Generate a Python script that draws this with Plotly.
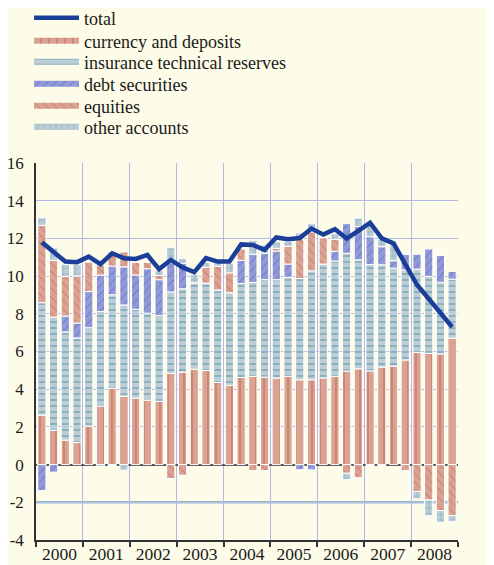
import plotly.graph_objects as go

years = ["2000", "2001", "2002", "2003", "2004", "2005", "2006", "2007", "2008"]
quarters = [
    "2000Q1", "2000Q2", "2000Q3", "2000Q4", "2001Q1", "2001Q2", "2001Q3", "2001Q4",
    "2002Q1", "2002Q2", "2002Q3", "2002Q4", "2003Q1", "2003Q2", "2003Q3", "2003Q4",
    "2004Q1", "2004Q2", "2004Q3", "2004Q4", "2005Q1", "2005Q2", "2005Q3", "2005Q4",
    "2006Q1", "2006Q2", "2006Q3", "2006Q4", "2007Q1", "2007Q2", "2007Q3", "2007Q4",
    "2008Q1", "2008Q2", "2008Q3", "2008Q4",
]
y_ticks = [-4, -2, 0, 2, 4, 6, 8, 10, 12, 14, 16]
y_tick_labels = ["-4", "-2", "0", "2", "4", "6", "8", "10", "12", "14", "16"]

currency = [2.62, 1.82, 1.30, 1.17, 2.04, 3.10, 4.05, 3.62, 3.52, 3.42, 3.35, 4.84,
            4.90, 5.06, 4.99, 4.36, 4.20, 4.62, 4.68, 4.64, 4.59, 4.68, 4.50, 4.50,
            4.60, 4.68, 4.96, 5.08, 4.97, 5.17, 5.22, 5.55, 5.95, 5.90, 5.87, 6.71]
insurance = [5.97, 6.01, 5.74, 5.55, 5.22, 5.02, 4.96, 4.85, 4.72, 4.61, 4.55, 4.32,
             4.43, 4.59, 4.64, 4.90, 4.92, 4.99, 4.98, 5.17, 5.22, 5.26, 5.37, 5.78,
             6.04, 6.12, 6.25, 5.78, 5.64, 5.43, 5.20, 4.78, 4.42, 4.08, 3.80, 3.13]
debt = [-1.38, -0.40, 0.84, 0.79, 1.92, 1.93, 1.52, 2.02, 1.82, 2.36, 1.91, 1.55,
        1.35, 0.00, 0.00, 0.00, 0.00, 1.23, 1.49, 1.40, 1.52, 0.70, -0.27, -0.28,
        0.00, 0.52, 1.57, 1.78, 1.48, 0.96, 0.40, 0.84, 0.79, 1.46, 1.42, 0.41]
equities = [4.10, 3.01, 2.10, 2.50, 1.58, 0.53, 0.76, 0.79, 0.67, 0.35, 0.23, -0.74,
            -0.56, 0.00, 0.84, 1.26, 1.05, 0.61, -0.32, -0.32, 0.14, 0.94, 2.11, 2.07,
            1.40, 0.63, -0.46, -0.69, -0.05, -0.05, 0.00, -0.32, -1.43, -1.88, -2.44, -2.71]
other = [0.40, 0.65, 0.65, 0.62, 0.00, -0.10, -0.05, -0.30, 0.00, 0.00, 0.26, 0.82,
         0.26, 0.45, 0.25, 0.23, 0.51, 0.00, 0.75, 0.44, 0.35, 0.26, 0.31, 0.43,
         0.00, 0.30, -0.34, 0.44, 0.62, 0.40, 0.86, 0.00, -0.39, -0.83, -0.62, -0.30]
total = [11.79, 11.26, 10.77, 10.74, 11.03, 10.63, 11.21, 10.95, 10.91, 11.12, 10.37, 10.86,
         10.46, 10.21, 10.95, 10.77, 10.77, 11.68, 11.65, 11.39, 12.05, 11.95, 12.02, 12.52,
         12.21, 12.49, 12.00, 12.40, 12.83, 12.00, 11.74, 10.64, 9.54, 8.80, 8.05, 7.30]

x = list(range(len(quarters)))

BG = "#fdfce9"
FONT = "Liberation Serif, Times New Roman, serif"
SALMON = "#d9a393"
RED = "#c0392b"
GREYBLUE = "#bccdd6"
TEAL = "#4f8ea8"
LAV = "#9199d8"
DBLUE = "#3545a8"

series = [
    ("currency and deposits", currency, SALMON, RED, "|", 8, 0.15),
    ("insurance technical reserves", insurance, GREYBLUE, TEAL, "-", 6, 0.3),
    ("debt securities", debt, LAV, DBLUE, "/", 6, 0.15),
    ("equities", equities, SALMON, RED, "\\", 6, 0.15),
    ("other accounts", other, GREYBLUE, TEAL, "+", 6, 0.2),
]

fig = go.Figure()
for name, vals, bg, fg, shp, sz, sol in series:
    fig.add_trace(go.Bar(
        x=x, y=vals, name=name, showlegend=False,
        marker=dict(color=bg, line=dict(color="white", width=1),
                    pattern=dict(shape=shp, fgcolor=fg, bgcolor=bg, size=sz, solidity=sol)),
    ))

fig.add_trace(go.Scatter(x=x, y=total, mode="lines", name="total", legend="legend",
                         line=dict(color="#1b3f98", width=4.5), showlegend=True))

legend_names = ["legend2", "legend3", "legend4", "legend5", "legend6"]
for (name, vals, bg, fg, shp, sz, sol), lg in zip(series, legend_names):
    fig.add_trace(go.Scatter(
        x=[None], y=[None], mode="none", fill="toself", name=name, legend=lg,
        fillcolor=bg, fillpattern=dict(shape=shp, fgcolor=fg, bgcolor=bg, size=sz, solidity=sol),
        showlegend=True,
    ))

year_centers = [4 * i + 1.5 for i in range(len(years))]
year_bounds = [4 * i - 0.5 for i in range(len(years) + 1)]

fig.add_shape(type="line", xref="paper", x0=0, x1=1, y0=-2, y1=-2,
              line=dict(color="#93bccd", width=2.5), layer="below")

# page body has an 8px margin: figure is laid out 8px up/left of the reference
legend_rows = [18, 41, 62, 84, 106, 127]
plot_top, plot_bottom = 163, 540
leg_common = dict(x=-0.0165, xanchor="left", yanchor="middle", bgcolor="rgba(0,0,0,0)",
                  font=dict(size=18, family=FONT, color="#1a1a1a"), itemwidth=45)
legends = {}
for i, row in enumerate(legend_rows):
    key = "legend" if i == 0 else f"legend{i + 1}"
    legends[key] = dict(leg_common, y=(plot_bottom - row) / (plot_bottom - plot_top))

yaxis_common = dict(range=[-4, 16], tickvals=y_ticks, ticktext=y_tick_labels,
                    automargin=False, showline=True, linecolor="#333", linewidth=1.5,
                    ticks="", tickfont=dict(size=17, family=FONT))

fig.update_layout(
    width=486, height=557,
    paper_bgcolor=BG, plot_bgcolor=BG,
    margin=dict(l=28, r=36, t=155, b=25, autoexpand=False),
    barmode="relative", bargap=0.3,
    font=dict(family=FONT, size=17, color="#1a1a1a"),
    xaxis=dict(range=[-0.5, 35.5], tickvals=year_centers, ticktext=years,
               ticks="", showgrid=False, showline=True, linecolor="#333", linewidth=1.5,
               zeroline=False, automargin=False, ticklabelstandoff=-3,
               tickfont=dict(size=17.5, family=FONT),
               minor=dict(tickvals=year_bounds, ticks="outside", ticklen=5, tickcolor="#333",
                          tickwidth=1.5, showgrid=True, gridcolor="#b3b8e6", gridwidth=1)),
    yaxis=dict(yaxis_common, showgrid=True, gridcolor="#b3b8e6", gridwidth=1,
               zeroline=True, zerolinecolor="#555", zerolinewidth=2, ticklabelstandoff=7),
    yaxis2=dict(yaxis_common, overlaying="y", side="right", anchor="x",
                showgrid=False, zeroline=False, ticklabelstandoff=8),
    **legends,
)

fig.write_html("out.html")
